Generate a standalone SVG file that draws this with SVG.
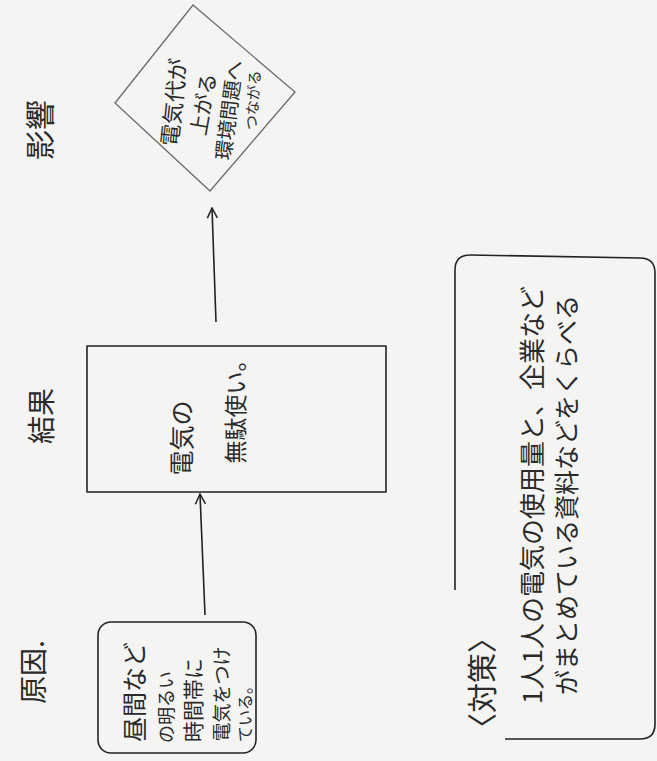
<svg xmlns="http://www.w3.org/2000/svg" width="657" height="761" viewBox="0 0 657 761">
  <style>
    .t { font-family: "Noto Sans CJK JP", "Noto Sans", sans-serif; fill: #2a2a2a; text-anchor: middle; dominant-baseline: central; }
    .box { fill: none; stroke: #222; stroke-width: 1.6; stroke-linejoin: round; }
    .light { fill: none; stroke: #6a6a6a; stroke-width: 1.3; }
    .conn { fill: none; stroke: #222; stroke-width: 1.6; }
  </style>
  <defs>
    <marker id="arr" viewBox="0 0 12 12" refX="11" refY="6" markerWidth="12" markerHeight="12" markerUnits="userSpaceOnUse" orient="auto">
      <path d="M1,1 L11,6 L1,11" fill="none" stroke="#222" stroke-width="1.5"/>
    </marker>
  </defs>
  <rect x="0" y="0" width="657" height="761" fill="#f4f4f2"/>

  <!-- section labels -->
  <g id="label-cause"><text class="t" font-size="28" transform="translate(32,672) rotate(-90)">原因.</text></g>
  <g id="label-result"><text class="t" font-size="28" transform="translate(40,416) rotate(-90)">結果</text></g>
  <g id="label-effect"><text class="t" font-size="30" transform="translate(38,130) rotate(-90)">影響</text></g>

  <!-- cause box -->
  <g id="cause">
    <rect class="box" x="98" y="622" width="158" height="131" rx="13"/>
    <text class="t" font-size="25" transform="translate(133,692) rotate(-90)">昼間など</text>
    <text class="t" font-size="18" transform="translate(165,707) rotate(-90)">の明るい</text>
    <text class="t" font-size="21" transform="translate(192,700) rotate(-90)">時間帯に</text>
    <text class="t" font-size="19" transform="translate(220,694) rotate(-90)">電気をつけ</text>
    <text class="t" font-size="16" transform="translate(244,710) rotate(-90)">ている。</text>
  </g>

  <!-- result box -->
  <g id="result">
    <rect class="box" x="87" y="346" width="299" height="146"/>
    <text class="t" font-size="25" transform="translate(180,438) rotate(-90)">電気の</text>
    <text class="t" font-size="23" transform="translate(234,406) rotate(-90)">無駄使い。</text>
  </g>

  <!-- effect diamond -->
  <g id="effect">
    <polygon class="light" points="193,5 295,92 210,191 115,103"/>
    <text class="t" font-size="22" transform="translate(172,102) rotate(-84)">電気代が</text>
    <text class="t" font-size="21" transform="translate(202,104) rotate(-80)">上がる</text>
    <text class="t" font-size="20" transform="translate(228,110) rotate(-83)">環境問題へ</text>
    <text class="t" font-size="15" transform="translate(252,100) rotate(-86)">つながる</text>
  </g>

  <!-- countermeasure box -->
  <g id="measures">
    <path class="box" d="M455,590 L455,270 Q455,255 470,255 L640,258 Q655,258 655,273 L655,724 Q655,739 640,739 L505,739"/>
    <text class="t" font-size="30" transform="translate(480,683) rotate(-90)">〈対策〉</text>
    <text class="t" font-size="26" transform="translate(530,495) rotate(-90)">1人1人の電気の使用量と、企業など</text>
    <text class="t" font-size="25" transform="translate(565,495) rotate(-90)">がまとめている資料などをくらべる</text>
  </g>

  <!-- connectors -->
  <g id="connectors">
    <line class="conn" x1="205" y1="615" x2="200" y2="494" marker-end="url(#arr)"/>
    <line class="conn" x1="216" y1="322" x2="212" y2="208" marker-end="url(#arr)"/>
  </g>
</svg>
